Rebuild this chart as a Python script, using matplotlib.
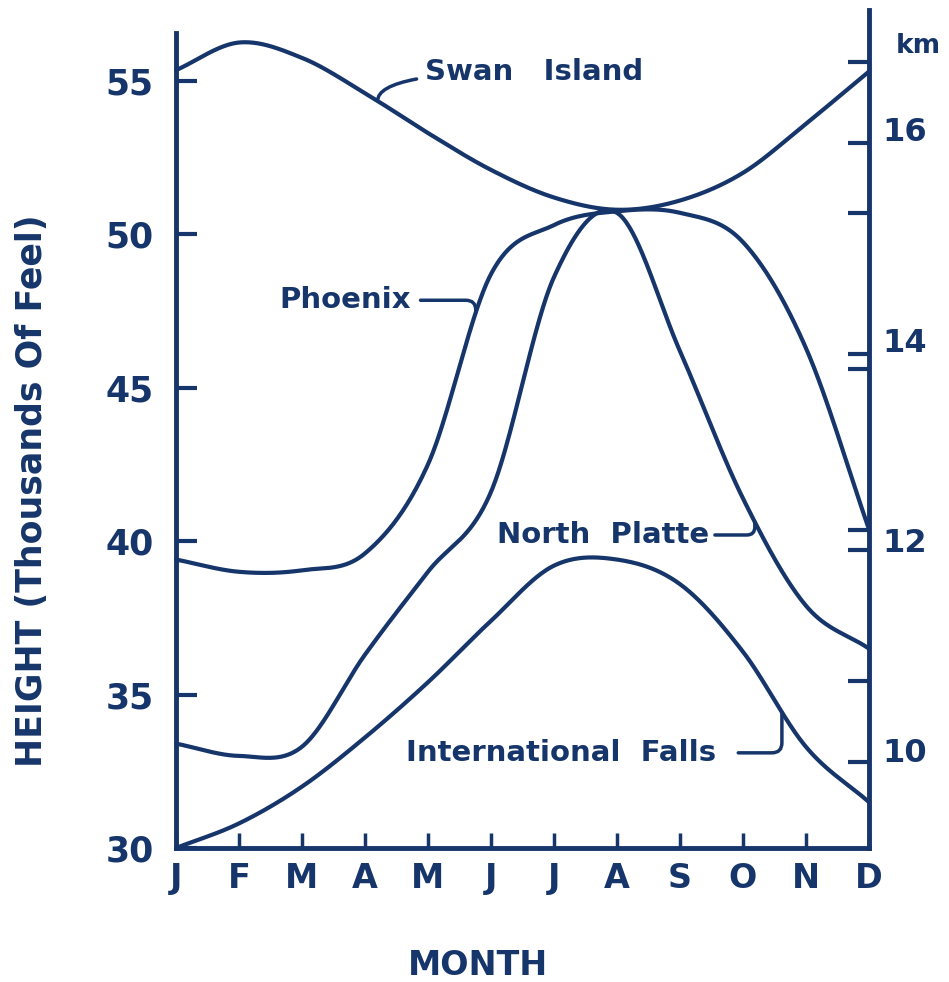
import numpy as np
import matplotlib.pyplot as plt
from matplotlib.ticker import FixedLocator

# monthly tropopause height, thousands of feet
months = ['J', 'F', 'M', 'A', 'M', 'J', 'J', 'A', 'S', 'O', 'N', 'D']
swan_island = [55.35, 56.25, 55.75, 54.6, 53.3, 52.1, 51.2, 50.8, 51.1, 52.0, 53.6, 55.3]
phoenix = [39.4, 39.0, 39.05, 39.6, 42.5, 48.7, 50.3, 50.75, 50.7, 49.75, 46.3, 40.4]
north_platte = [33.4, 33.0, 33.3, 36.3, 39.0, 41.6, 48.6, 50.7, 46.2, 41.4, 37.9, 36.5]
intl_falls = [30.0, 30.8, 32.0, 33.6, 35.4, 37.4, 39.2, 39.4, 38.6, 36.4, 33.3, 31.5]

km_labels = ['10', '12', '14', '16']

ink = '#16356a'
plt.rcParams['font.family'] = ['DejaVu Sans']
plt.rcParams['font.weight'] = 'bold'


def smooth(y, n=40):
    # catmull-rom through the monthly points
    y = np.asarray(y, float)
    x = np.arange(len(y), dtype=float)
    px = np.concatenate([[2 * x[0] - x[1]], x, [2 * x[-1] - x[-2]]])
    py = np.concatenate([[2 * y[0] - y[1]], y, [2 * y[-1] - y[-2]]])
    t = np.linspace(0, 1, n, endpoint=False)
    xs, ys = [], []
    for i in range(1, len(px) - 2):
        for p, out in ((px, xs), (py, ys)):
            p0, p1, p2, p3 = p[i - 1], p[i], p[i + 1], p[i + 2]
            out.append(0.5 * (2 * p1 + (-p0 + p2) * t
                              + (2 * p0 - 5 * p1 + 4 * p2 - p3) * t ** 2
                              + (-p0 + 3 * p1 - 3 * p2 + p3) * t ** 3))
    xs = np.concatenate(xs + [[x[-1]]])
    ys = np.concatenate(ys + [[y[-1]]])
    return xs, ys


fig = plt.figure(figsize=(9.49, 9.82), dpi=100)
ax = fig.add_axes([0.1855, 0.1365, 0.730, 0.853])
ax.set_xlim(0, 11)
ax.set_ylim(30, 57.3)

curves = {}
for name, vals in (('swan', swan_island), ('phoenix', phoenix),
                   ('np', north_platte), ('if', intl_falls)):
    xs, ys = smooth(vals)
    curves[name] = (xs, ys)
    ax.plot(xs, ys, color=ink, lw=3, solid_capstyle='round', clip_on=False)

# spines
ax.spines['top'].set_visible(False)
ax.spines['right'].set_visible(False)
ax.spines['left'].set_bounds(30, 56.55)
for s in ('left', 'bottom'):
    ax.spines[s].set_color(ink)
    ax.spines[s].set_linewidth(3.5)

ax.set_xticks(range(12), months)
ax.set_yticks([30, 35, 40, 45, 50, 55])
ax.tick_params(axis='x', direction='in', length=11, width=2.5, color=ink,
               labelcolor=ink, labelsize=24, pad=10)
ax.tick_params(axis='y', direction='in', length=15, width=3, color=ink,
               labelcolor=ink, labelsize=25, pad=16)

# km scale on the right
ax2 = ax.secondary_yaxis('right', functions=(lambda v: v / 3.2808, lambda k: k * 3.2808))
ax2.set_yticks([10.12, 12.2, 14.19, 16.29], km_labels)
ax2.yaxis.set_minor_locator(FixedLocator([10.0, 10.8, 12.1, 12.3, 13.9, 14.05, 15.45, 16.15, 16.95]))
ax2.tick_params(which='major', length=0, pad=10, labelsize=23, labelcolor=ink)
ax2.tick_params(which='minor', direction='in', length=15, width=3, color=ink)
ax2.spines['right'].set_color(ink)
ax2.spines['right'].set_linewidth(3.5)
fig.text(0.968, 0.953, 'km', color=ink, fontsize=19, ha='center', va='center')


def on_curve(name, m):
    xs, ys = curves[name]
    return m, np.interp(m, xs, ys)


lab = dict(color=ink, fontsize=21, va='center', ha='left')
arrow = dict(arrowstyle='-', color=ink, lw=2.5, shrinkA=4, shrinkB=0)

ax.annotate('Swan   Island', xy=on_curve('swan', 3.2), xytext=(3.95, 55.3),
            arrowprops=dict(arrow, connectionstyle='angle3,angleA=180,angleB=90'), **lab)
ax.annotate('Phoenix', xy=on_curve('phoenix', 4.76), xytext=(1.64, 47.85),
            arrowprops=dict(arrow, shrinkA=5, connectionstyle='angle,angleA=0,angleB=90,rad=10'), **lab)
ax.annotate('North  Platte', xy=on_curve('np', 9.19), xytext=(5.1, 40.2),
            arrowprops=dict(arrow, shrinkA=2, connectionstyle='angle,angleA=0,angleB=-90,rad=8'), **lab)
ax.annotate('International  Falls', xy=on_curve('if', 9.62), xytext=(3.65, 33.1),
            arrowprops=dict(arrow, shrinkA=14, connectionstyle='angle,angleA=0,angleB=-90,rad=10'), **lab)

fig.text(0.034, 0.50, 'HEIGHT (Thousands Of Feel)', rotation=90, color=ink,
         fontsize=25, ha='center', va='center')
fig.text(0.504, 0.017, 'MONTH', color=ink, fontsize=24, ha='center', va='center')

fig.savefig('out.png', dpi=100, facecolor='white')
